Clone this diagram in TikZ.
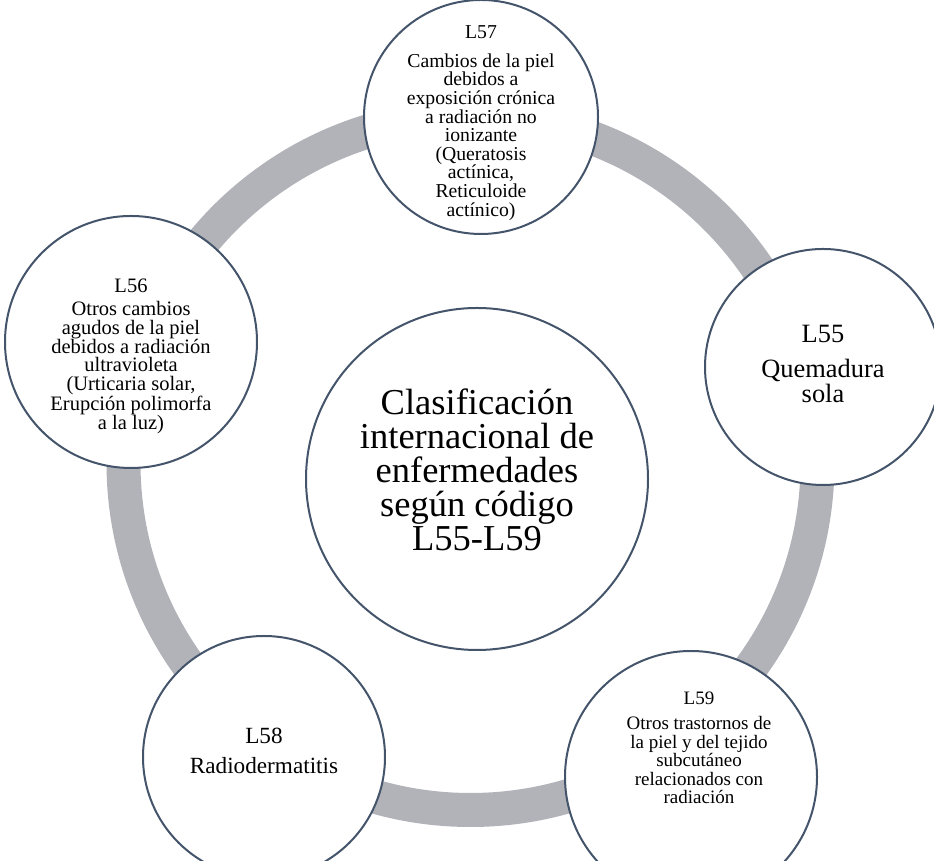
\documentclass[tikz,border=0pt]{standalone}
\usepackage{fontspec}
\setmainfont{Liberation Serif}
\usetikzlibrary{positioning, calc, backgrounds}
\definecolor{AnilloGris}{HTML}{B1B3B9}
\definecolor{BordePizarra}{HTML}{44546A}

\begin{document}
\begin{tikzpicture}[
    x=1pt, y=1pt,
    % Círculos (centro y códigos)
    codigo/.style={
            circle,
            draw=BordePizarra,
            line width=2pt,
            fill=white,
            minimum size=#1,
            inner sep=0pt
        },
    % Textos dentro de los círculos
    texto/.style={
            align=center,
            inner sep=0pt
        },
    % Anillo
    anillo/.style={
            draw=AnilloGris,
            line width=34pt
        }
    ]
    \useasboundingbox (0,0) rectangle (934,861);
    \clip (0,0) rectangle (934,861);

    % ========== CENTRO ==========
    \coordinate (eje) at (470.5,398);
    \node[codigo=342pt, label={[texto, yshift=9pt, font=\fontsize{36.5}{34}\selectfont]center:{Clasificación\\internacional de\\enfermedades\\según código\\L55-L59}}] (clasif) at (477,382) {};

    % ========== CÓDIGOS ==========
    \node[codigo=234pt, label={[texto, yshift=-6pt, font=\fontsize{19.7}{18.6}\selectfont]center:{L57\\[10pt]Cambios de la piel\\debidos a\\exposición crónica\\a radiación no\\ionizante\\(Queratosis\\actínica,\\Reticuloide\\actínico)}}] (l57) at (481,744) {};
    \node[codigo=236pt, label={[texto, yshift=3pt, font=\fontsize{26.4}{25}\selectfont]center:{L55\\[10pt]Quemadura\\sola}}] (l55) at (823,494) {};
    \node[codigo=252pt, label={[texto, xshift=8pt, yshift=29pt, font=\fontsize{19}{18.5}\selectfont]center:{L59\\[7pt]Otros trastornos de\\la piel y del tejido\\subcutáneo\\relacionados con\\radiación}}] (l59) at (691,84) {};
    \node[codigo=242pt, label={[texto, yshift=6pt, font=\fontsize{23.2}{22}\selectfont]center:{L58\\[8pt]Radiodermatitis}}] (l58) at (264,104) {};
    \node[codigo=252pt, label={[texto, yshift=-14pt, font=\fontsize{20.5}{18.7}\selectfont]center:{L56\\[5pt]Otros cambios\\agudos de la piel\\debidos a radiación\\ultravioleta\\(Urticaria solar,\\Erupción polimorfa\\a la luz)}}] (l56) at (131,519) {};

    % ========== ANILLO ==========
    \begin{scope}[on background layer]
        \draw[anillo] (eje) circle (347);
    \end{scope}

\end{tikzpicture}
\end{document}
